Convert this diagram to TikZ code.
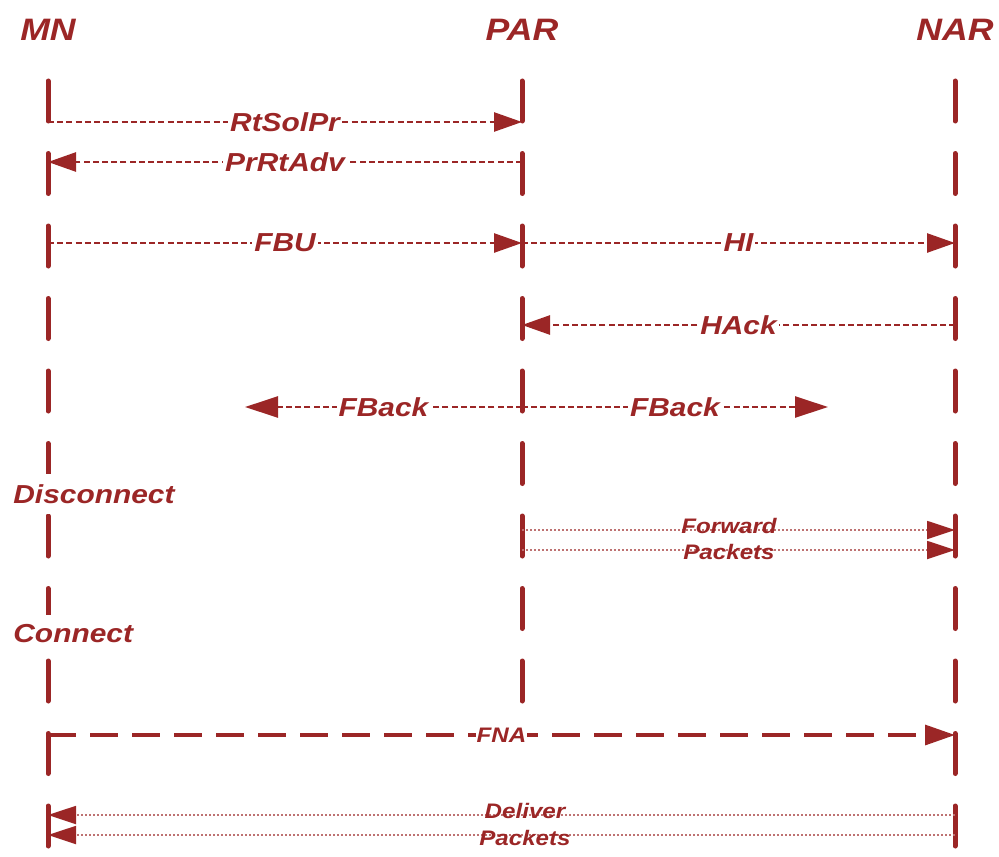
\documentclass[tikz,border=0pt]{standalone}
\usepackage{fontspec}
\setmainfont{Liberation Sans}[FakeStretch=1.15]
\usepackage{xcolor}
\usetikzlibrary{positioning,arrows.meta}
\definecolor{dred}{RGB}{155,38,38}

\begin{document}
\begin{tikzpicture}[x=0.5pt, y=-0.5pt,
  actor/.style={text=dred, font=\fontsize{15.5}{18}\selectfont\bfseries\itshape},
  life/.style={draw=dred, line width=2.5pt, line cap=round, dash pattern=on 20pt off 16.25pt},
  msg/.style={draw=dred, line width=1.3pt, dash pattern=on 3pt off 1.6pt, -{Triangle[length=14pt, width=9.5pt]}},
  fbk/.style={msg, -{Triangle[length=16.5pt, width=10.5pt]}},
  pkt/.style={draw=dred!65, line width=0.9pt, dash pattern=on 1pt off 1pt, -{Triangle[length=14pt, width=9pt, color=dred]}},
  fna/.style={draw=dred, line width=1.6pt, dash pattern=on 14pt off 7pt, -{Triangle[length=15pt, width=10pt]}},
  lbl/.style={fill=white, text=dred, inner sep=1pt, font=\fontsize{13}{15}\selectfont\bfseries\itshape},
  small/.style={text=dred, inner sep=0pt, font=\fontsize{10.5}{12}\selectfont\bfseries\itshape},
  event/.style={lbl, anchor=west, inner xsep=1pt, inner ysep=5pt}]
\useasboundingbox (0,0) rectangle (999,856);

% actors
\node[actor] (mn)  at (48,30)  {MN};
\node[actor] (par) at (522,30) {PAR};
\node[actor] (nar) at (955,30) {NAR};

% lifelines
\coordinate (mn-top)  at (48,81);   \coordinate (mn-bot)  at (48,870);
\coordinate (par-top) at (522,81);  \coordinate (par-bot) at (522,706);
\coordinate (nar-top) at (955,81);  \coordinate (nar-bot) at (955,870);
\draw[life] (mn-top) -- (mn-bot);
\draw[life] (par-top) -- (par-bot);
\draw[life] (nar-top) -- (nar-bot);

% message rows
\foreach \r/\y in {rts/122, adv/162, fbu/243, hack/325, fbk/407, fwa/530, fwb/550, fna/735, dla/815, dlb/835} {
  \coordinate (mn-\r)  at (48,\y);
  \coordinate (par-\r) at (522,\y);
  \coordinate (nar-\r) at (955,\y);
}
\coordinate (fbk-l) at (245,407);
\coordinate (fbk-r) at (828,407);

\draw[msg] (mn-rts) -- node[lbl]{RtSolPr} (par-rts);
\draw[msg] (par-adv) -- node[lbl]{PrRtAdv} (mn-adv);
\draw[msg] (mn-fbu) -- node[lbl]{FBU} (par-fbu);
\draw[msg] (par-fbu) -- node[lbl]{HI} (nar-fbu);
\draw[msg] (nar-hack) -- node[lbl]{HAck} (par-hack);
\draw[fbk] (par-fbk) -- node[lbl]{FBack} (fbk-l);
\draw[fbk] (par-fbk) -- node[lbl]{FBack} (fbk-r);

\node[event] (disc) at (11,494) {Disconnect};
\draw[pkt] (par-fwa) -- (nar-fwa);
\draw[pkt] (par-fwb) -- (nar-fwb);
\node[small] (fwd)  at (729,526) {Forward};
\node[small] (fwd2) at (729,552) {Packets};

\node[event] (conn) at (11,634) {Connect};
\draw[fna] (mn-fna) -- node[lbl, inner sep=0.5pt, font=\fontsize{10.5}{12}\selectfont\bfseries\itshape]{FNA} (nar-fna);

\draw[pkt] (nar-dla) -- (mn-dla);
\draw[pkt] (nar-dlb) -- (mn-dlb);
\node[small] (dlv)  at (525,811) {Deliver};
\node[small] (dlv2) at (525,838) {Packets};
\end{tikzpicture}
\end{document}
